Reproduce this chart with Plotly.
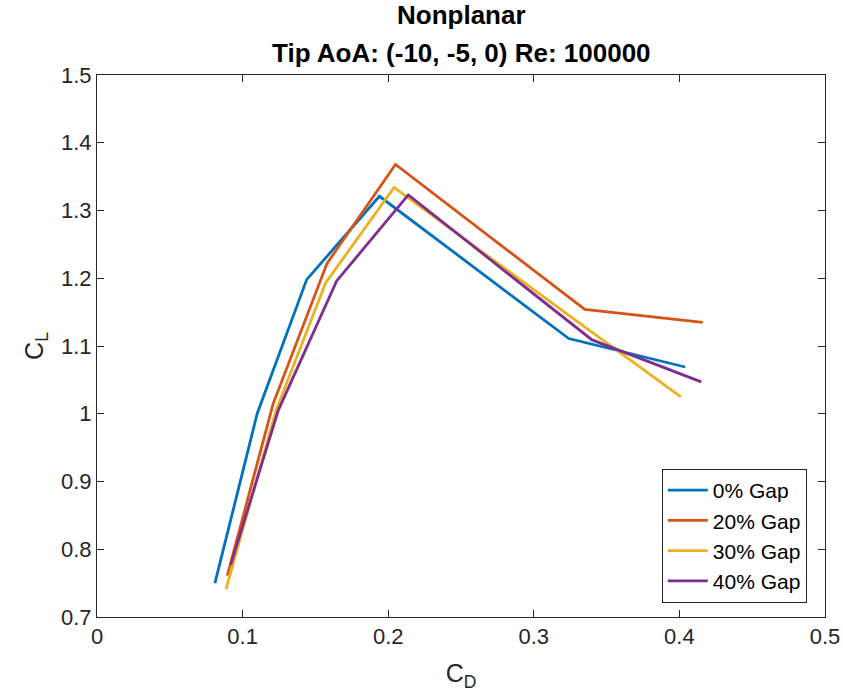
import plotly.graph_objects as go

series_names = ["0% Gap", "20% Gap", "30% Gap", "40% Gap"]
colors = ["#0072BD", "#D95319", "#EDB120", "#7E2F8E"]

cd_0 = [0.081, 0.110, 0.144, 0.194, 0.324, 0.404]
cl_0 = [0.750, 1.000, 1.198, 1.321, 1.111, 1.069]

cd_20 = [0.0895, 0.121, 0.158, 0.205, 0.335, 0.416]
cl_20 = [0.761, 1.015, 1.222, 1.368, 1.154, 1.135]

cd_30 = [0.0886, 0.123, 0.157, 0.204, 0.330, 0.401]
cl_30 = [0.741, 1.005, 1.193, 1.334, 1.136, 1.025]

cd_40 = [0.0918, 0.1245, 0.1646, 0.2138, 0.340, 0.415]
cl_40 = [0.777, 1.005, 1.196, 1.323, 1.109, 1.047]

xs = [cd_0, cd_20, cd_30, cd_40]
ys = [cl_0, cl_20, cl_30, cl_40]

x_ticks = [0, 0.1, 0.2, 0.3, 0.4, 0.5]
x_labels = ["0", "0.1", "0.2", "0.3", "0.4", "0.5"]
y_ticks = [0.7, 0.8, 0.9, 1.0, 1.1, 1.2, 1.3, 1.4, 1.5]
y_labels = ["0.7", "0.8", "0.9", "1", "1.1", "1.2", "1.3", "1.4", "1.5"]

title_lines = ["Nonplanar", "Tip AoA: (-10, -5, 0) Re: 100000"]

fig = go.Figure()
for name, c, x, y in zip(series_names, colors, xs, ys):
    fig.add_trace(go.Scatter(x=x, y=y, mode="lines", name=name,
                             line=dict(color=c, width=2.8)))

font_family = "Liberation Sans, Arial, sans-serif"
axis_color = "#262626"
common = dict(showgrid=False, zeroline=False, showline=True, linecolor=axis_color, linewidth=1,
              mirror="ticks", ticks="inside", ticklen=7, tickcolor=axis_color, tickwidth=1,
              tickfont=dict(family=font_family, size=22, color=axis_color))

for txt, yp in zip(title_lines, [1.1107, 1.0406]):
    fig.add_annotation(text="<b>" + txt + "</b>", x=0.5, y=yp, xref="paper", yref="paper",
                       xanchor="center", yanchor="middle", showarrow=False,
                       font=dict(family=font_family, size=26, color="black"))

fig.update_layout(
    width=843, height=700,
    margin=dict(l=97, r=18, t=75, b=83, autoexpand=False),
    paper_bgcolor="white", plot_bgcolor="white",
    xaxis=dict(range=[0, 0.5], tickvals=x_ticks, ticktext=x_labels,
               title=dict(text="C<sub>D</sub>", font=dict(family=font_family, size=25, color=axis_color), standoff=16),
               **common),
    yaxis=dict(range=[0.7, 1.5], tickvals=y_ticks, ticktext=y_labels,
               title=dict(text="C<sub>L</sub>", font=dict(family=font_family, size=25, color=axis_color), standoff=10),
               **common),
    legend=dict(x=0.975, y=0.026, xanchor="right", yanchor="bottom",
                bgcolor="white", bordercolor=axis_color, borderwidth=1,
                itemwidth=40,
                font=dict(family=font_family, size=21, color="black")),
    showlegend=True,
)

fig.write_html("out.html")
